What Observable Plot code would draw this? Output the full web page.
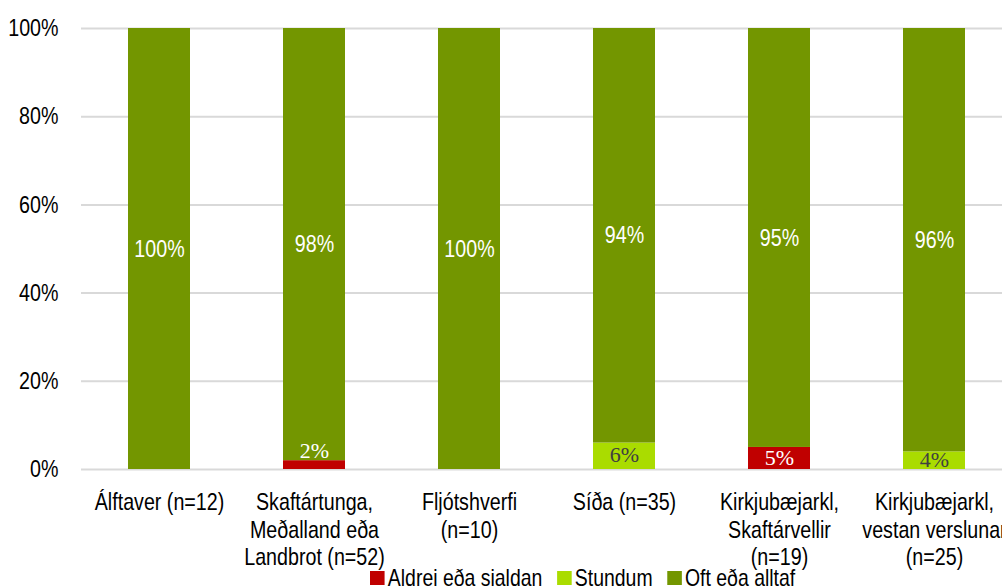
<!DOCTYPE html>
<html>
<head>
<meta charset="utf-8">
<script src="https://cdn.jsdelivr.net/npm/d3@7"></script>
<script src="https://cdn.jsdelivr.net/npm/@observablehq/plot@0.6"></script>
<style>
  html, body { margin: 0; padding: 0; background: #fff; overflow: hidden; }
  #wrap { position: relative; width: 1002px; height: 586px; overflow: hidden; }
  #legend { position: absolute; left: 370px; top: 566px; display: flex; align-items: center;
    font: 24px 'Liberation Sans', Arial, sans-serif; line-height: 24px; color: #000; white-space: nowrap;
    transform: scaleX(0.81); transform-origin: left center; }
  .sw { display: inline-block; width: 18px; height: 14px; margin-right: 4px; }
  .item { display: flex; align-items: center; margin-right: 18px; }
</style>
</head>
<body>
<div id="wrap"><div id="chart"></div><div id="legend"></div></div>
<script>
const categories = ["Álftaver", "Skaftártunga", "Fljótshverfi", "Síða", "Kirkjubæjarkl Skaftárvellir", "Kirkjubæjarkl vestan"];
const categoryLabels = [
  "Álftaver (n=12)",
  "Skaftártunga,\nMeðalland eða\nLandbrot (n=52)",
  "Fljótshverfi\n(n=10)",
  "Síða (n=35)",
  "Kirkjubæjarkl,\nSkaftárvellir\n(n=19)",
  "Kirkjubæjarkl,\nvestan verslunar\n(n=25)"
];
const seriesNames = ["Aldrei eða sjaldan", "Stundum", "Oft eða alltaf"];
const aldrei = [0, 2, 0, 0, 5, 0];
const stundum = [0, 0, 0, 6, 0, 4];
const oft = [100, 98, 100, 94, 95, 96];
const yTicks = [0, 20, 40, 60, 80, 100];
const colors = ["#C00000", "#AADC00", "#739600"];

const seriesValues = [aldrei, stundum, oft];
const rows = [];
categories.forEach((c, i) => {
  let base = 0;
  seriesValues.forEach((vals, s) => {
    const v = vals[i];
    rows.push({cat: c, series: seriesNames[s], s, v, y1: base, y2: base + v, mid: base + v / 2});
    base += v;
  });
});
const labelOf = new Map(categories.map((c, i) => [c, categoryLabels[i]]));
const nonzero = rows.filter(d => d.v > 0);
const bigLabels = nonzero.filter(d => d.s === 2);
const smallLabels = nonzero.filter(d => d.s !== 2);

const FONT = "'Liberation Sans', Arial, sans-serif";
const SERIF = "'Liberation Serif', 'Times New Roman', serif";

const chart = Plot.plot({
  width: 1002,
  height: 566,
  marginLeft: 81,
  marginRight: 0,
  marginTop: 28,
  marginBottom: 97,
  style: {fontFamily: FONT, fontSize: "24px", color: "#000", background: "#fff", overflow: "visible"},
  x: {domain: categories, range: [81, 1011], paddingInner: 0.6, paddingOuter: 0.3},
  y: {domain: [0, 100]},
  color: {domain: seriesNames, range: colors},
  marks: [
    Plot.ruleY(yTicks, {stroke: "#D9D9D9", strokeWidth: 2}),
    Plot.axisY(yTicks, {tickSize: 0, tickPadding: 23, tickFormat: d => d + "%", fill: "#000", label: null}),
    Plot.axisX({tickSize: 0, tickPadding: 21, tickFormat: d => labelOf.get(d), lineHeight: 1.15, fill: "#000", label: null}),
    Plot.rectY(rows.filter(d => d.v > 0), {x: "cat", y1: "y1", y2: "y2", fill: "series"}),
    Plot.text(bigLabels, {x: "cat", y: "mid", text: d => d.v + "%", fill: "#fff"}),
    Plot.text(smallLabels.filter(d => d.v >= 3), {x: "cat", y: "mid", text: d => d.v + "%",
      fontFamily: SERIF, fontSize: 22,
      fill: d => d.s === 0 ? "#fff" : "#404040", dy: -1}),
    Plot.text(smallLabels.filter(d => d.v < 3), {x: "cat", y: "mid", text: d => d.v + "%",
      fontFamily: SERIF, fontSize: 22,
      fill: "#fff", dy: -14})
  ]
});
document.getElementById("chart").appendChild(chart);

// condense the sans-serif texts horizontally (narrow look of the reference)
const SX = 0.82;
Array.from(chart.querySelectorAll("text")).forEach(t => {
  const cs = getComputedStyle(t);
  if (/Serif/.test(cs.fontFamily)) return;
  const anchor = cs.textAnchor;
  const g = document.createElementNS("http://www.w3.org/2000/svg", "g");
  t.parentNode.insertBefore(g, t);
  g.appendChild(t);
  const b = g.getBBox();
  const cx = anchor === "end" ? b.x + b.width : anchor === "start" ? b.x : b.x + b.width / 2;
  g.setAttribute("transform", `translate(${cx},0) scale(${SX},1) translate(${-cx},0)`);
});

const legend = document.getElementById("legend");
seriesNames.forEach((name, i) => {
  const item = document.createElement("span");
  item.className = "item";
  const sw = document.createElement("span");
  sw.className = "sw";
  sw.style.background = colors[i];
  item.appendChild(sw);
  item.appendChild(document.createTextNode(name));
  legend.appendChild(item);
});
</script>
</body>
</html>
